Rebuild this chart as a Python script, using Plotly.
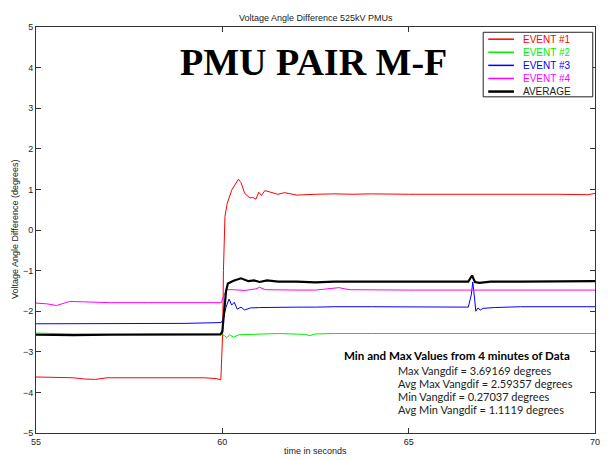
import plotly.graph_objects as go

# ---- data: voltage angle difference (degrees) vs time (s) ----
t_event1 = [55.0, 55.5, 56.0, 56.3, 56.6, 56.9, 57.5, 58.0, 58.5, 59.0, 59.5, 59.85, 59.96,
            60.01, 60.03, 60.07, 60.13, 60.25, 60.43, 60.5, 60.6, 60.74, 60.82, 60.9, 60.98,
            61.05, 61.14, 61.3, 61.49, 61.67, 61.85, 62.0, 62.5, 63.0, 63.5, 64.0, 65.0,
            66.0, 67.0, 68.0, 69.0, 69.8, 70.0]
v_event1 = [-3.62, -3.63, -3.64, -3.67, -3.68, -3.64, -3.64, -3.64, -3.65, -3.64, -3.64, -3.66, -3.69,
            -2.5, -1.0, 0.33, 0.65, 0.98, 1.25, 1.17, 0.9, 0.79, 0.80, 0.76, 0.93,
            0.85, 0.97, 0.93, 0.88, 0.92, 0.88, 0.86, 0.88, 0.89, 0.88, 0.89, 0.88,
            0.88, 0.89, 0.89, 0.88, 0.87, 0.90]

t_event2 = [55.0, 56.0, 57.0, 58.0, 59.0, 59.95, 60.05, 60.12, 60.2, 60.3, 60.45, 61.0, 61.5,
            62.2, 62.35, 62.5, 63.0, 64.0, 65.0, 66.0, 67.0, 68.0, 69.0, 70.0]
v_event2 = [-2.54, -2.56, -2.56, -2.56, -2.56, -2.56, -2.60, -2.65, -2.58, -2.64, -2.58, -2.56, -2.55,
            -2.57, -2.60, -2.56, -2.55, -2.55, -2.55, -2.55, -2.55, -2.55, -2.55, -2.55]

t_event3 = [55.0, 56.0, 57.0, 58.0, 59.0, 59.97, 60.02, 60.1, 60.18, 60.25, 60.32, 60.4, 60.5,
            60.6, 60.75, 61.0, 61.5, 62.0, 62.5, 63.0, 64.0, 65.0, 66.0, 66.6, 66.68, 66.72,
            66.77, 66.8, 66.86, 66.92, 67.0, 67.3, 68.0, 69.0, 69.5, 70.0]
v_event3 = [-2.31, -2.31, -2.30, -2.30, -2.30, -2.28, -2.20, -1.90, -1.70, -1.85, -1.78, -1.95, -1.90,
            -1.97, -1.92, -1.91, -1.90, -1.90, -1.90, -1.89, -1.89, -1.89, -1.89, -1.90, -1.60, -1.28,
            -1.70, -2.00, -1.92, -1.97, -1.93, -1.91, -1.89, -1.89, -1.88, -1.89]

t_event4 = [55.0, 55.3, 55.55, 55.75, 55.9, 56.3, 57.0, 58.0, 59.0, 59.97, 60.05, 60.12, 60.3,
            60.6, 60.9, 61.0, 61.15, 61.5, 62.0, 62.5, 62.9, 63.13, 63.4, 64.0, 65.0, 66.0,
            67.0, 68.0, 69.0, 70.0]
v_event4 = [-1.80, -1.82, -1.86, -1.80, -1.76, -1.77, -1.79, -1.79, -1.79, -1.79, -1.60, -1.47, -1.47,
            -1.49, -1.45, -1.41, -1.47, -1.48, -1.48, -1.48, -1.45, -1.42, -1.47, -1.48, -1.48, -1.48,
            -1.48, -1.48, -1.48, -1.48]

t_average = [55.0, 56.0, 57.0, 58.0, 59.0, 59.95, 60.0, 60.05, 60.1, 60.15, 60.3, 60.5, 60.7,
             60.85, 61.0, 61.2, 61.5, 62.0, 62.5, 63.0, 64.0, 65.0, 66.0, 66.6, 66.7, 66.78,
             66.9, 67.2, 68.0, 69.0, 70.0]
v_average = [-2.58, -2.59, -2.58, -2.58, -2.58, -2.57, -2.50, -2.00, -1.50, -1.32, -1.25, -1.19, -1.26,
             -1.24, -1.28, -1.24, -1.27, -1.27, -1.29, -1.27, -1.27, -1.27, -1.27, -1.27, -1.12, -1.28,
             -1.30, -1.27, -1.27, -1.27, -1.26]

series_names = ["EVENT #1", "EVENT #2", "EVENT #3", "EVENT #4", "AVERAGE"]
series_colors = ["#ff0000", "#00ee00", "#0000ff", "#ff00ff", "#000000"]
series_widths = [1, 1, 1, 1, 2.2]
series_t = [t_event1, t_event2, t_event3, t_event4, t_average]
series_v = [v_event1, v_event2, v_event3, v_event4, v_average]

x_ticks = [55, 60, 65, 70]
y_ticks = [-5, -4, -3, -2, -1, 0, 1, 2, 3, 4, 5]

stats_lines = [
    "Max Vangdif = 3.69169 degrees",
    "Avg Max Vangdif = 2.59357 degrees",
    "Min Vangdif = 0.27037 degrees",
    "Avg Min Vangdif = 1.1119 degrees",
]

fig = go.Figure()
for name, col, w, tt, vv in zip(series_names, series_colors, series_widths, series_t, series_v):
    fig.add_trace(go.Scatter(x=tt, y=vv, mode="lines", name=name,
                             line=dict(color=col, width=w), showlegend=False))

axis_font = dict(family="Liberation Sans, Arial, sans-serif", size=9, color="#222222")

fig.update_layout(
    width=608, height=460,
    margin=dict(l=36, r=8, t=27, b=27),
    paper_bgcolor="white", plot_bgcolor="white",
    font=axis_font,
    showlegend=False,
    xaxis=dict(range=[55, 70], tickvals=x_ticks, ticks="inside", ticklen=5,
               tickcolor="#333333", showline=True, linecolor="#333333", linewidth=1,
               mirror="ticks", showgrid=False, zeroline=False,
               tickfont=axis_font),
    yaxis=dict(range=[-5, 5], tickvals=y_ticks, ticks="inside", ticklen=5,
               tickcolor="#333333", showline=True, linecolor="#333333", linewidth=1,
               mirror="ticks", showgrid=False, zeroline=False,
               tickfont=axis_font),
)

annotations = [
    dict(text="Voltage Angle Difference 525kV PMUs", x=0.5, y=1.0, xref="paper", yref="paper",
         xanchor="center", yanchor="bottom", yshift=2, showarrow=False, font=axis_font),
    dict(text="time in seconds", x=0.5, y=0, xref="paper", yref="paper",
         xanchor="center", yanchor="top", yshift=-11, showarrow=False, font=axis_font),
    dict(text="Voltage Angle Difference (degrees)", x=0, y=0.5, xref="paper", yref="paper",
         xanchor="right", yanchor="middle", xshift=-14, textangle=-90, showarrow=False,
         font=axis_font),
    dict(text="<b>PMU PAIR M-F</b>", x=58.8, y=4.15, xref="x", yref="y",
         xanchor="left", yanchor="middle", showarrow=False,
         font=dict(family="Liberation Serif, Times New Roman, serif", size=38, color="black")),
    dict(text="<b>Min and Max Values from 4 minutes of Data</b>", x=63.2, y=-3.09, xref="x", yref="y",
         xanchor="left", yanchor="middle", showarrow=False,
         font=dict(family="Lato, sans-serif", size=11.6, color="black")),
]
for i, line in enumerate(stats_lines):
    annotations.append(dict(text=line, x=64.65, y=-3.45 - i * 0.32, xref="x", yref="y",
                            xanchor="left", yanchor="middle", showarrow=False,
                            font=dict(family="Lato, sans-serif", size=11, color="#222222")))

# legend box drawn in paper coordinates
shapes = []
lg_x0, lg_x1 = 0.80, 0.996
lg_top, lg_bot = 0.987, 0.828
shapes.append(dict(type="rect", xref="paper", yref="paper", x0=lg_x0, x1=lg_x1,
                   y0=lg_bot, y1=lg_top, line=dict(color="#222222", width=1),
                   fillcolor="white", layer="above"))
row_step = (lg_top - lg_bot - 0.03) / 4
for i, (name, col, w) in enumerate(zip(series_names, series_colors, series_widths)):
    yy = lg_top - 0.017 - i * row_step
    shapes.append(dict(type="line", xref="paper", yref="paper", x0=0.809, x1=0.855,
                       y0=yy, y1=yy, line=dict(color=col, width=1.5 if w < 2 else 2.5),
                       layer="above"))
    annotations.append(dict(text=name, x=0.867, y=yy, xref="paper", yref="paper",
                            xanchor="left", yanchor="middle", showarrow=False,
                            font=dict(family="Liberation Sans Narrow, Liberation Sans, Arial",
                                      size=10, color=col if name != "AVERAGE" else "#222222")))

fig.update_layout(annotations=annotations, shapes=shapes)
fig.write_html("out.html")
